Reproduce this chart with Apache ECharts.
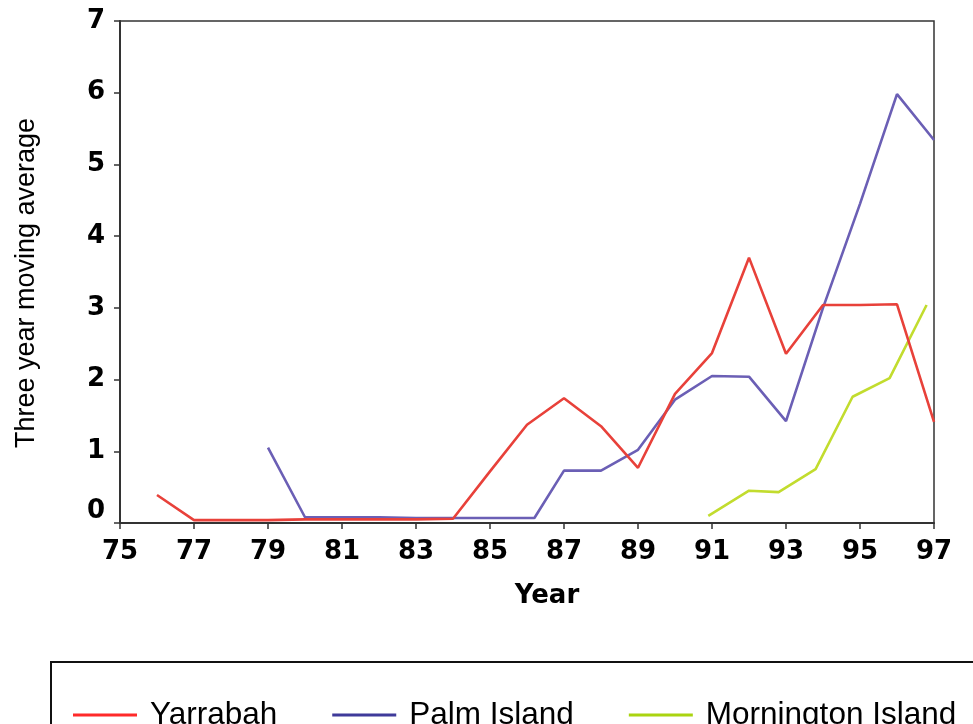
<!DOCTYPE html>
<html>
<head>
<meta charset="utf-8">
<script src="https://cdn.jsdelivr.net/npm/echarts@6/dist/echarts.min.js"></script>
<style>
  html, body { margin: 0; padding: 0; background: #fff; }
  #chart { width: 973px; height: 724px; }
</style>
</head>
<body>
<div id="chart"></div>
<script>
// three year moving average
const YARRABAH = [
  [76, 0.39], [77, 0.04], [78, 0.04], [79, 0.04], [80, 0.05], [81, 0.05],
  [82, 0.05], [83, 0.05], [84, 0.06], [85, 0.72], [86, 1.37], [87, 1.74],
  [88, 1.35], [89, 0.77], [90, 1.8], [91, 2.37], [92, 3.7], [93, 2.36],
  [94, 3.04], [95, 3.04], [96, 3.05], [97, 1.41],
];
const PALM_ISLAND = [
  [79, 1.05], [80, 0.08], [81, 0.08], [82, 0.08], [83, 0.07], [84, 0.07],
  [85, 0.07], [86.2, 0.07], [87, 0.73], [88, 0.73], [89, 1.02], [90, 1.72],
  [91, 2.05], [92, 2.04], [93, 1.42], [94, 3.0], [95, 4.45], [96, 5.98],
  [97, 5.34],
];
const MORNINGTON = [
  [90.9, 0.1], [92.0, 0.45], [92.8, 0.43], [93.8, 0.75], [94.8, 1.76],
  [95.8, 2.02], [96.8, 3.04],
];
const SERIES_NAMES = ['Yarrabah', 'Palm Island', 'Mornington Island'];
const LINE_COLORS = ['#e8413a', '#6b5fb5', '#c2dc2e'];
const LEGEND_COLORS = ['#ff2a2a', '#3f3a9a', '#aad410'];

const INK = '#000';
const AXIS = '#333';
const FONT = '"Liberation Sans", Arial, sans-serif';
const BOLD_FONT = '"DejaVu Sans", Verdana, sans-serif';

const chart = echarts.init(document.getElementById('chart'));

const seriesData = [YARRABAH, PALM_ISLAND, MORNINGTON];

chart.setOption({
  backgroundColor: '#fff',
  animation: false,
  textStyle: { fontFamily: FONT },
  grid: {
    left: 120, right: 39, top: 21, bottom: 201,
    show: true, borderColor: AXIS, borderWidth: 1.5,
  },
  xAxis: {
    type: 'value',
    min: 75, max: 97, interval: 2,
    name: 'Year',
    nameLocation: 'middle',
    nameGap: 60,
    nameTextStyle: {
      color: INK, fontSize: 26, fontWeight: 'bold', fontFamily: BOLD_FONT,
      padding: [0, 0, 0, 40],
    },
    axisLine: { show: true, lineStyle: { color: AXIS, width: 2 } },
    axisTick: { show: true, length: 6, lineStyle: { color: AXIS, width: 1.5 } },
    axisLabel: { color: INK, fontSize: 26, fontWeight: 'bold', fontFamily: BOLD_FONT, margin: 16 },
    splitLine: { show: false },
  },
  yAxis: {
    type: 'value',
    min: 0, max: 7, interval: 1,
    name: 'Three year moving average',
    nameLocation: 'middle',
    nameGap: 80,
    nameRotate: 90,
    nameTextStyle: { color: INK, fontSize: 27, padding: [0, 0, 0, -22] },
    axisLine: { show: true, lineStyle: { color: AXIS, width: 2 } },
    axisTick: { show: true, length: 6, lineStyle: { color: AXIS, width: 1.5 } },
    axisLabel: {
      color: INK, fontSize: 26, fontWeight: 'bold', fontFamily: BOLD_FONT, margin: 15,
      formatter: v => v === 0 ? '{z|0}' : String(v),
      rich: {
        z: { fontSize: 26, fontWeight: 'bold', fontFamily: BOLD_FONT, color: INK, padding: [0, 0, 24, 0] },
      },
    },
    splitLine: { show: false },
  },
  legend: {
    left: 51, top: 662, width: 1000,
    padding: [37, 40, 20, 22],
    borderColor: '#111', borderWidth: 2, borderRadius: 0,
    itemWidth: 64, itemHeight: 3, itemGap: 55,
    icon: 'rect',
    textStyle: { color: INK, fontSize: 31.5, fontFamily: FONT, padding: [0, 0, 0, 8] },
    data: SERIES_NAMES.map((n, i) => ({ name: n, itemStyle: { color: LEGEND_COLORS[i] } })),
  },
  series: SERIES_NAMES.map((n, i) => ({
    name: n,
    type: 'line',
    data: seriesData[i],
    showSymbol: false,
    symbol: 'none',
    lineStyle: { color: LINE_COLORS[i], width: 2.6 },
    itemStyle: { color: LINE_COLORS[i] },
    z: 3 - i,
  })),
});
</script>
</body>
</html>
